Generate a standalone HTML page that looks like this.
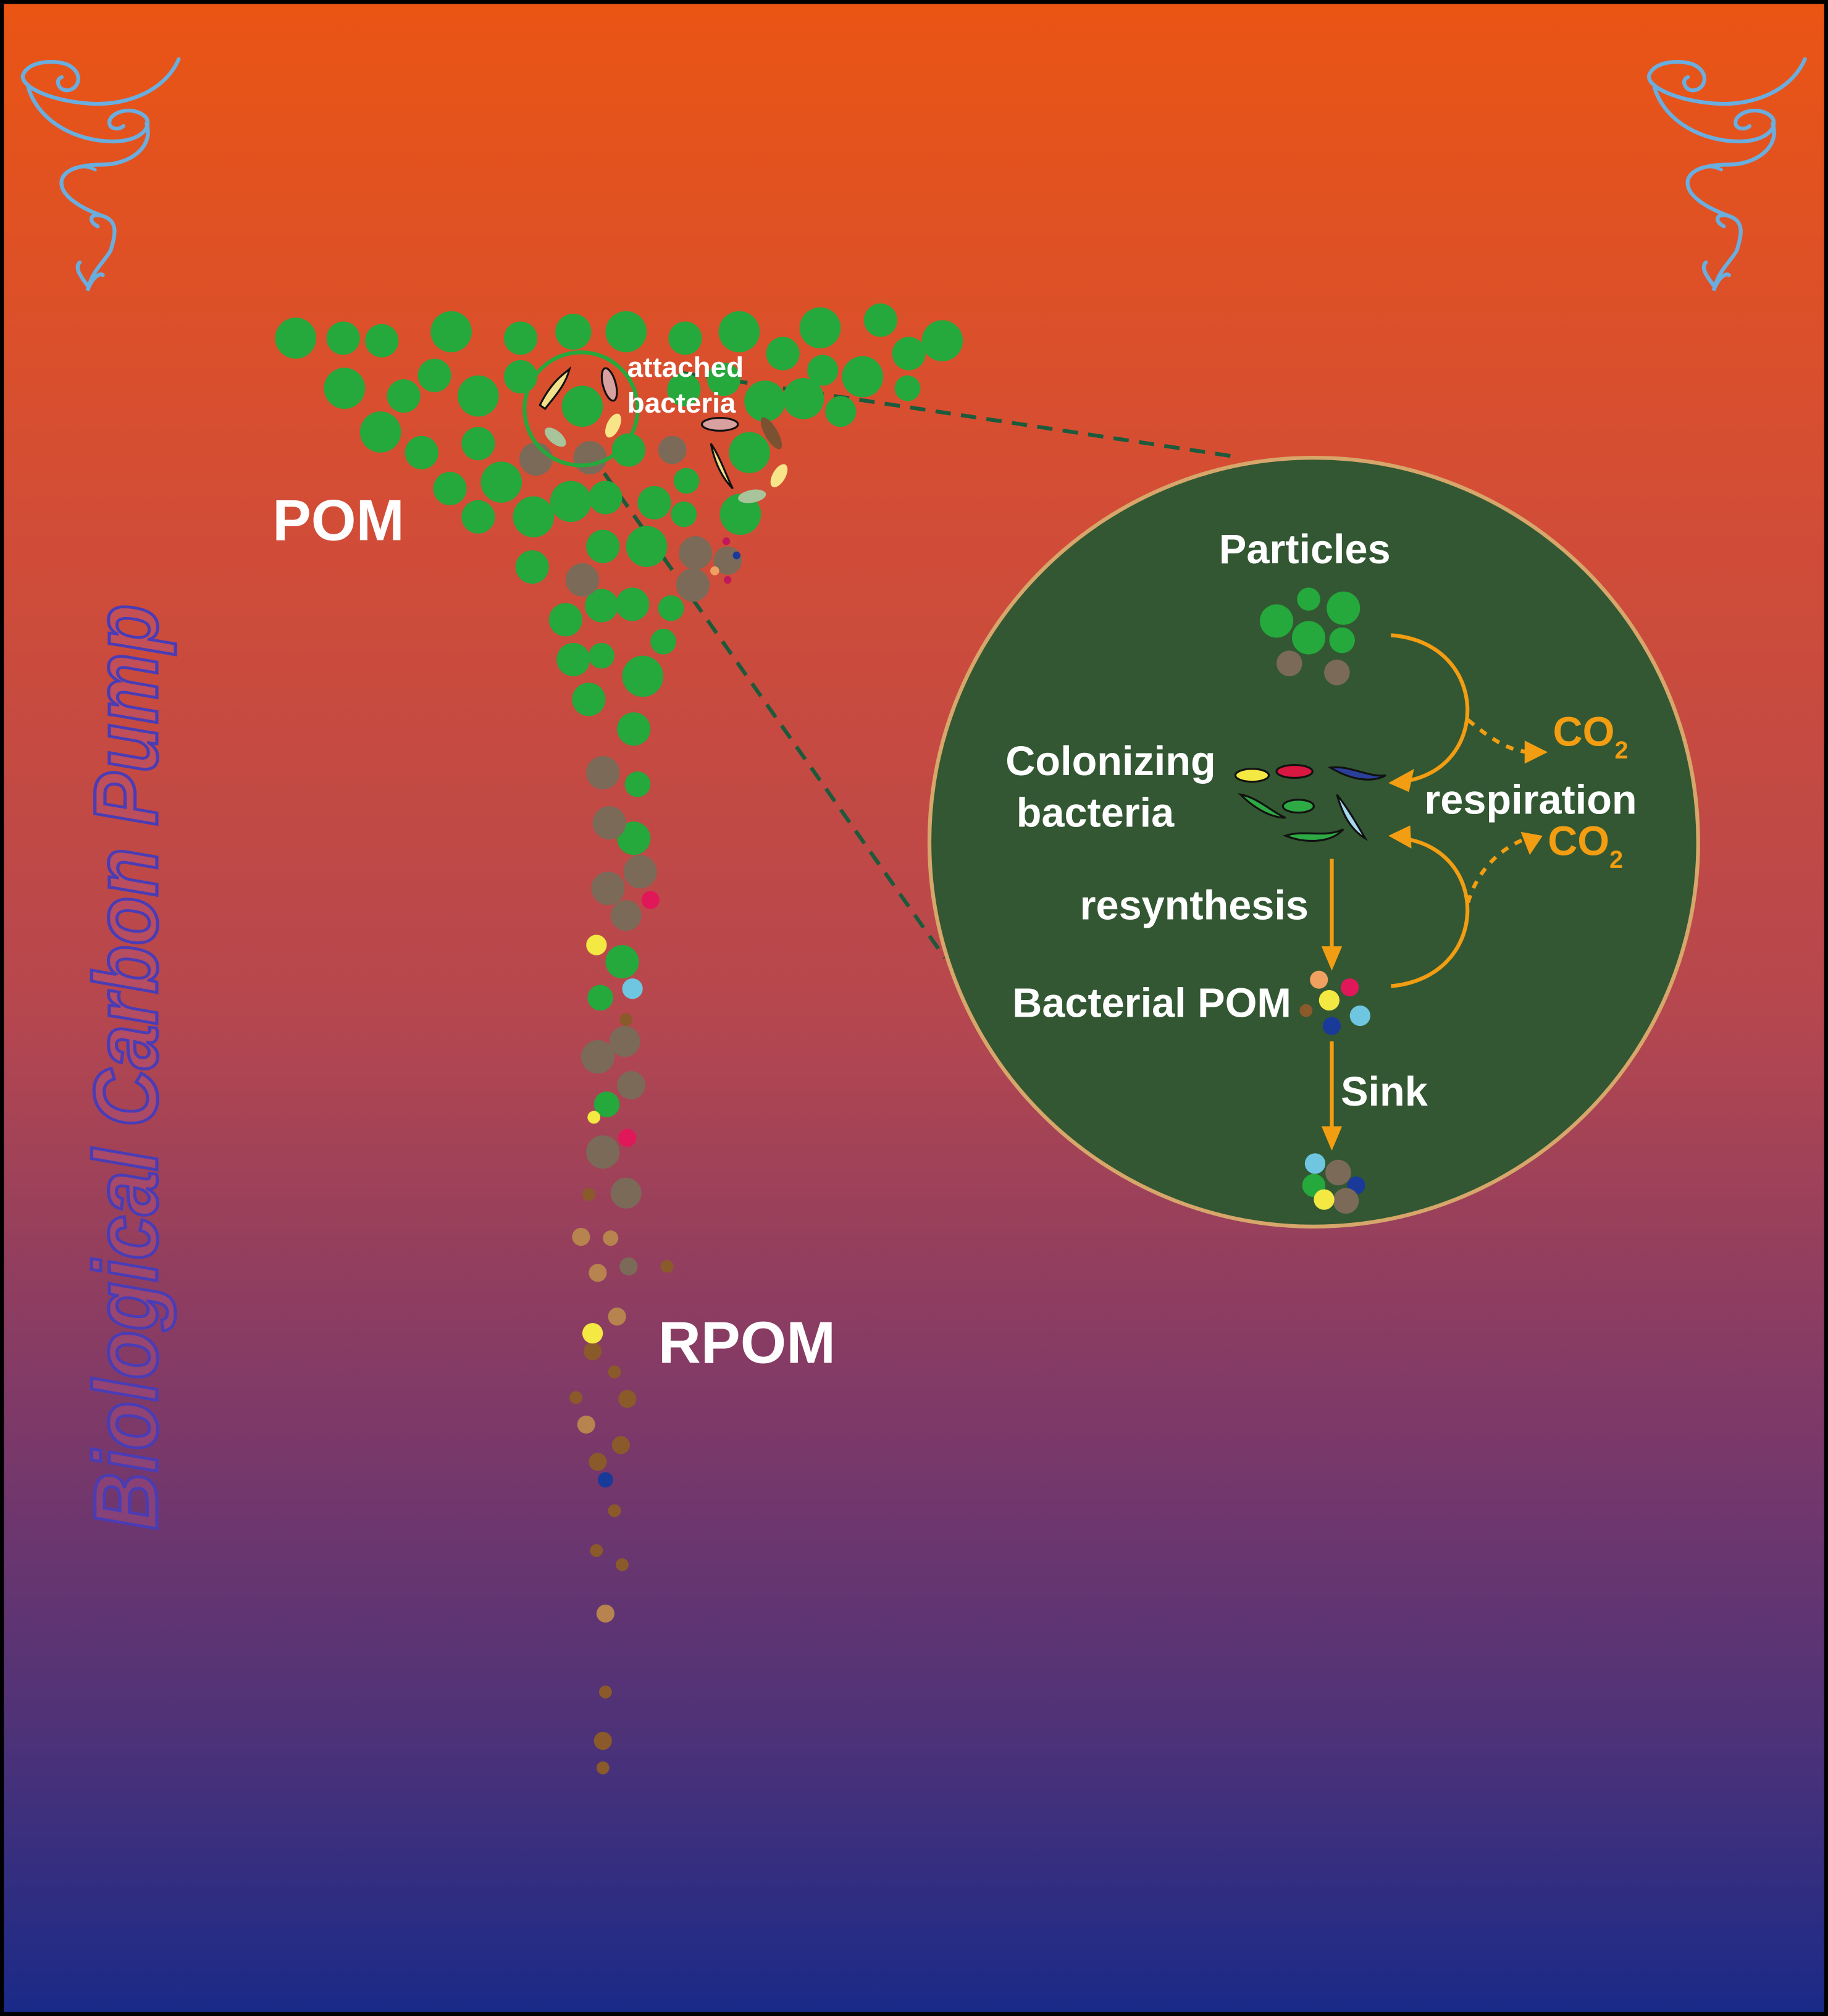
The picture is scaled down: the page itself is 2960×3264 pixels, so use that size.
<!DOCTYPE html>
<html><head><meta charset="utf-8"><style>
html,body{margin:0;padding:0;background:#000}
svg{display:block}
text{font-family:"Liberation Sans",sans-serif;font-weight:bold}
</style></head><body>
<svg width="2960" height="3264" viewBox="0 0 1422 1568" xmlns="http://www.w3.org/2000/svg">
<defs>
<linearGradient id="bg" x1="0" y1="0" x2="0" y2="1">
<stop offset="0" stop-color="#ea5514"/>
<stop offset="0.25" stop-color="#d34d36"/>
<stop offset="0.5" stop-color="#b6474e"/>
<stop offset="0.72" stop-color="#79386a"/>
<stop offset="0.86" stop-color="#4e3278"/>
<stop offset="1" stop-color="#1a2a88"/>
</linearGradient>
<g id="swirl" fill="none" stroke="#6aaee0" stroke-linecap="round">
<path d="M139,46 C128,72 95,84 64,80 C35,77 15,66 18,58 C22,48 40,46 52,50 C65,56 62,68 54,70 C46,72 42,62 48,60" stroke-width="3"/>
<path d="M22,68 C30,95 60,110 88,110 C108,110 118,100 114,92 C108,84 92,84 86,92 C82,100 92,102 96,98" stroke-width="3"/>
<path d="M114,96 C120,115 100,128 80,128 C62,128 50,132 48,140 C46,150 58,160 80,168 C92,172 90,182 86,195" stroke-width="3"/>
<path d="M80,168 C70,165 68,172 76,176 M86,195 C80,205 72,210 68,226 C72,215 78,212 80,214 M68,222 C62,214 58,208 62,204" stroke-width="3"/>
<path d="M48,140 C54,128 66,128 74,132" stroke-width="2.5"/>
</g>
</defs>
<rect x="0" y="0" width="1422" height="1568" fill="#000"/>
<rect x="3" y="3" width="1416" height="1562" fill="url(#bg)"/>

<use href="#swirl"/>
<use href="#swirl" transform="translate(1265,0)"/>

<g stroke="#1d5a3c" stroke-width="3" stroke-dasharray="12,8" fill="none">
<line x1="530" y1="290" x2="960" y2="355"/>
<line x1="470" y1="368" x2="735" y2="745"/>
</g>

<g fill="#25a83c">
<circle cx="230" cy="263" r="16"/><circle cx="267" cy="263" r="13"/><circle cx="297" cy="265" r="13"/><circle cx="351" cy="258" r="16"/><circle cx="405" cy="263" r="13"/><circle cx="446" cy="258" r="14"/><circle cx="487" cy="258" r="16"/><circle cx="533" cy="263" r="13"/><circle cx="575" cy="258" r="16"/><circle cx="609" cy="275" r="13"/><circle cx="638" cy="255" r="16"/><circle cx="685" cy="249" r="13"/><circle cx="707" cy="275" r="13"/><circle cx="733" cy="265" r="16"/>
<circle cx="268" cy="302" r="16"/><circle cx="314" cy="308" r="13"/><circle cx="338" cy="292" r="13"/><circle cx="372" cy="308" r="16"/><circle cx="405" cy="293" r="13"/><circle cx="453" cy="316" r="16"/><circle cx="532" cy="303" r="13"/><circle cx="563" cy="295" r="13"/><circle cx="595" cy="312" r="16"/><circle cx="625" cy="310" r="16"/><circle cx="671" cy="293" r="16"/><circle cx="706" cy="302" r="10"/><circle cx="654" cy="320" r="12"/><circle cx="640" cy="288" r="12"/>
<circle cx="296" cy="336" r="16"/><circle cx="328" cy="352" r="13"/><circle cx="372" cy="345" r="13"/><circle cx="489" cy="350" r="13"/><circle cx="350" cy="380" r="13"/><circle cx="390" cy="375" r="16"/><circle cx="372" cy="402" r="13"/><circle cx="415" cy="402" r="16"/><circle cx="444" cy="390" r="16"/><circle cx="471" cy="387" r="13"/><circle cx="509" cy="391" r="13"/><circle cx="534" cy="374" r="10"/><circle cx="576" cy="400" r="16"/><circle cx="583" cy="352" r="16"/><circle cx="532" cy="400" r="10"/><circle cx="414" cy="441" r="13"/><circle cx="469" cy="425" r="13"/><circle cx="503" cy="425" r="16"/><circle cx="440" cy="482" r="13"/><circle cx="468" cy="471" r="13"/><circle cx="492" cy="470" r="13"/><circle cx="522" cy="473" r="10"/><circle cx="446" cy="513" r="13"/><circle cx="468" cy="510" r="10"/><circle cx="500" cy="526" r="16"/><circle cx="516" cy="499" r="10"/><circle cx="458" cy="544" r="13"/><circle cx="493" cy="567" r="13"/><circle cx="496" cy="610" r="10"/><circle cx="493" cy="652" r="13"/><circle cx="484" cy="748" r="13"/><circle cx="467" cy="776" r="10"/><circle cx="472" cy="859" r="10"/>
</g>
<g fill="#7b6a58">
<circle cx="417" cy="357" r="13"/><circle cx="459" cy="356" r="13"/><circle cx="523" cy="350" r="11"/><circle cx="541" cy="430" r="13"/><circle cx="539" cy="455" r="13"/><circle cx="566" cy="436" r="11"/><circle cx="453" cy="451" r="13"/><circle cx="469" cy="601" r="13"/><circle cx="474" cy="640" r="13"/><circle cx="473" cy="691" r="13"/><circle cx="498" cy="678" r="13"/><circle cx="487" cy="712" r="12"/><circle cx="486" cy="810" r="12"/><circle cx="465" cy="822" r="13"/><circle cx="491" cy="844" r="11"/><circle cx="469" cy="896" r="13"/><circle cx="487" cy="928" r="12"/><circle cx="489" cy="985" r="7"/>
</g>
<circle cx="452" cy="318" r="44" fill="none" stroke="#25a83c" stroke-width="3"/>
<g stroke="#111" stroke-width="1.5">
<path d="M420,315 C430,295 440,290 443,287 C440,300 430,310 424,318 Z" fill="#f3e08a"/>
<ellipse cx="474" cy="299" rx="5" ry="13" fill="#d9a0a0" transform="rotate(-15 474 299)"/>
<ellipse cx="560" cy="330" rx="14" ry="5" fill="#d9a0a0"/>
<path d="M553,345 C560,355 565,370 570,380 C562,372 556,360 553,345 Z" fill="#f3e08a"/>
</g>
<ellipse cx="477" cy="331" rx="5" ry="10" fill="#f8e58a" transform="rotate(25 477 331)"/>
<ellipse cx="432" cy="340" rx="5" ry="10" fill="#a8c49a" transform="rotate(-50 432 340)"/>
<ellipse cx="600" cy="337" rx="5" ry="14" fill="#7a5232" transform="rotate(-30 600 337)"/>
<ellipse cx="606" cy="370" rx="5" ry="10" fill="#f8e58a" transform="rotate(30 606 370)"/>
<ellipse cx="585" cy="386" rx="11" ry="5" fill="#a8c49a" transform="rotate(-10 585 386)"/>
<circle cx="565" cy="421" r="3" fill="#c0185a"/><circle cx="573" cy="432" r="3" fill="#1a3a9a"/><circle cx="556" cy="444" r="3.5" fill="#f0a060"/><circle cx="566" cy="451" r="3" fill="#c0185a"/>

<circle cx="506" cy="700" r="7" fill="#e0185a"/><circle cx="464" cy="735" r="8" fill="#f4e842"/><circle cx="492" cy="769" r="8" fill="#6ec6e0"/><circle cx="487" cy="793" r="5" fill="#8b5a2b"/><circle cx="462" cy="869" r="5" fill="#f4e842"/><circle cx="488" cy="885" r="7" fill="#e0185a"/><circle cx="458" cy="929" r="5" fill="#8b5a2b"/>
<g fill="#b7834e">
<circle cx="452" cy="962" r="7"/><circle cx="475" cy="963" r="6"/><circle cx="465" cy="990" r="7"/><circle cx="480" cy="1024" r="7"/><circle cx="456" cy="1108" r="7"/><circle cx="471" cy="1255" r="7"/>
</g>
<g fill="#8b5a2b">
<circle cx="519" cy="985" r="5"/><circle cx="461" cy="1051" r="7"/><circle cx="478" cy="1067" r="5"/><circle cx="448" cy="1087" r="5"/><circle cx="488" cy="1088" r="7"/><circle cx="483" cy="1124" r="7"/><circle cx="465" cy="1137" r="7"/><circle cx="478" cy="1175" r="5"/><circle cx="464" cy="1206" r="5"/><circle cx="484" cy="1217" r="5"/><circle cx="471" cy="1316" r="5"/><circle cx="469" cy="1354" r="7"/><circle cx="469" cy="1375" r="5"/>
</g>
<circle cx="461" cy="1037" r="8" fill="#f4e842"/><circle cx="471" cy="1151" r="6" fill="#1a3a9a"/>

<text x="212" y="420" font-size="45" fill="#fff">POM</text>
<text x="512" y="1060" font-size="46" fill="#fff">RPOM</text>
<text x="488" y="293" font-size="22" fill="#fff">attached</text>
<text x="488" y="321" font-size="22" fill="#fff">bacteria</text>
<text transform="translate(122,1190) rotate(-90)" font-size="70" font-style="italic" fill="#b45a8a" fill-opacity="0.35" stroke="#4a3cb5" stroke-width="2.5" textLength="720" lengthAdjust="spacingAndGlyphs">Biological Carbon Pump</text>

<circle cx="1022" cy="655" r="299" fill="#325732" stroke="#d7a66a" stroke-width="3"/>
<text x="1015" y="438" font-size="32" fill="#fff" text-anchor="middle">Particles</text>
<g fill="#25a83c"><circle cx="993" cy="483" r="13"/><circle cx="1018" cy="466" r="9"/><circle cx="1045" cy="473" r="13"/><circle cx="1018" cy="496" r="13"/><circle cx="1044" cy="498" r="10"/></g>
<circle cx="1003" cy="516" r="10" fill="#7b6a58"/><circle cx="1040" cy="523" r="10" fill="#7b6a58"/>
<text x="864" y="603" font-size="32" fill="#fff" text-anchor="middle">Colonizing</text>
<text x="852" y="643" font-size="32" fill="#fff" text-anchor="middle">bacteria</text>
<g stroke="#111" stroke-width="1.5">
<ellipse cx="974" cy="603" rx="13" ry="5" fill="#f4e842"/>
<ellipse cx="1007" cy="600" rx="14" ry="5" fill="#d81840"/>
<path d="M1035,597 C1050,595 1065,605 1078,603 C1065,610 1048,605 1035,597Z" fill="#2a3f9a"/>
<path d="M965,618 C978,620 990,632 1000,636 C988,636 975,628 965,618Z" fill="#2eaa44"/>
<ellipse cx="1010" cy="627" rx="12" ry="5" fill="#2eaa44"/>
<path d="M1040,618 C1048,628 1055,640 1062,652 C1050,645 1044,632 1040,618Z" fill="#a8d8f0"/>
<path d="M1000,650 C1015,645 1030,652 1045,645 C1035,656 1015,656 1000,650Z" fill="#2eaa44"/>
</g>
<g stroke="#f29d12" stroke-width="3" fill="none">
<path d="M1082,494 C1160,500 1160,600 1090,608"/>
<path d="M1082,767 C1160,760 1160,660 1090,652"/>
<path d="M1142,560 C1160,575 1175,585 1192,585" stroke-dasharray="6,6"/>
<path d="M1142,702 C1148,680 1165,660 1188,652" stroke-dasharray="6,6"/>
<line x1="1036" y1="668" x2="1036" y2="740"/>
<line x1="1036" y1="810" x2="1036" y2="880"/>
</g>
<g fill="#f29d12">
<polygon points="1080,609 1100,598 1096,616"/>
<polygon points="1080,650 1097,642 1098,660"/>
<polygon points="1204,585 1186,576 1186,594"/>
<polygon points="1200,650 1183,647 1190,665"/>
<polygon points="1036,755 1028,736 1044,736"/>
<polygon points="1036,895 1028,876 1044,876"/>
</g>
<text x="1208" y="580" font-size="32" fill="#f29d12">CO<tspan font-size="19" dy="10">2</tspan></text>
<text x="1204" y="665" font-size="32" fill="#f29d12">CO<tspan font-size="19" dy="10">2</tspan></text>
<text x="1108" y="633" font-size="32" fill="#fff">respiration</text>
<text x="929" y="715" font-size="32" fill="#fff" text-anchor="middle">resynthesis</text>
<text x="896" y="791" font-size="32" fill="#fff" text-anchor="middle">Bacterial POM</text>
<text x="1043" y="860" font-size="32" fill="#fff">Sink</text>
<circle cx="1026" cy="762" r="7" fill="#f0a060"/><circle cx="1050" cy="768" r="7" fill="#e0185a"/><circle cx="1034" cy="778" r="8" fill="#f4e842"/><circle cx="1016" cy="786" r="5" fill="#8b5a2b"/><circle cx="1058" cy="790" r="8" fill="#6ec6e0"/><circle cx="1036" cy="798" r="7" fill="#1a3a9a"/>
<circle cx="1023" cy="905" r="8" fill="#6ec6e0"/><circle cx="1041" cy="912" r="10" fill="#7b6a58"/><circle cx="1055" cy="922" r="7" fill="#1a3a9a"/><circle cx="1022" cy="922" r="9" fill="#25a83c"/><circle cx="1047" cy="934" r="10" fill="#7b6a58"/><circle cx="1030" cy="933" r="8" fill="#f4e842"/>
</svg>
</body></html>
